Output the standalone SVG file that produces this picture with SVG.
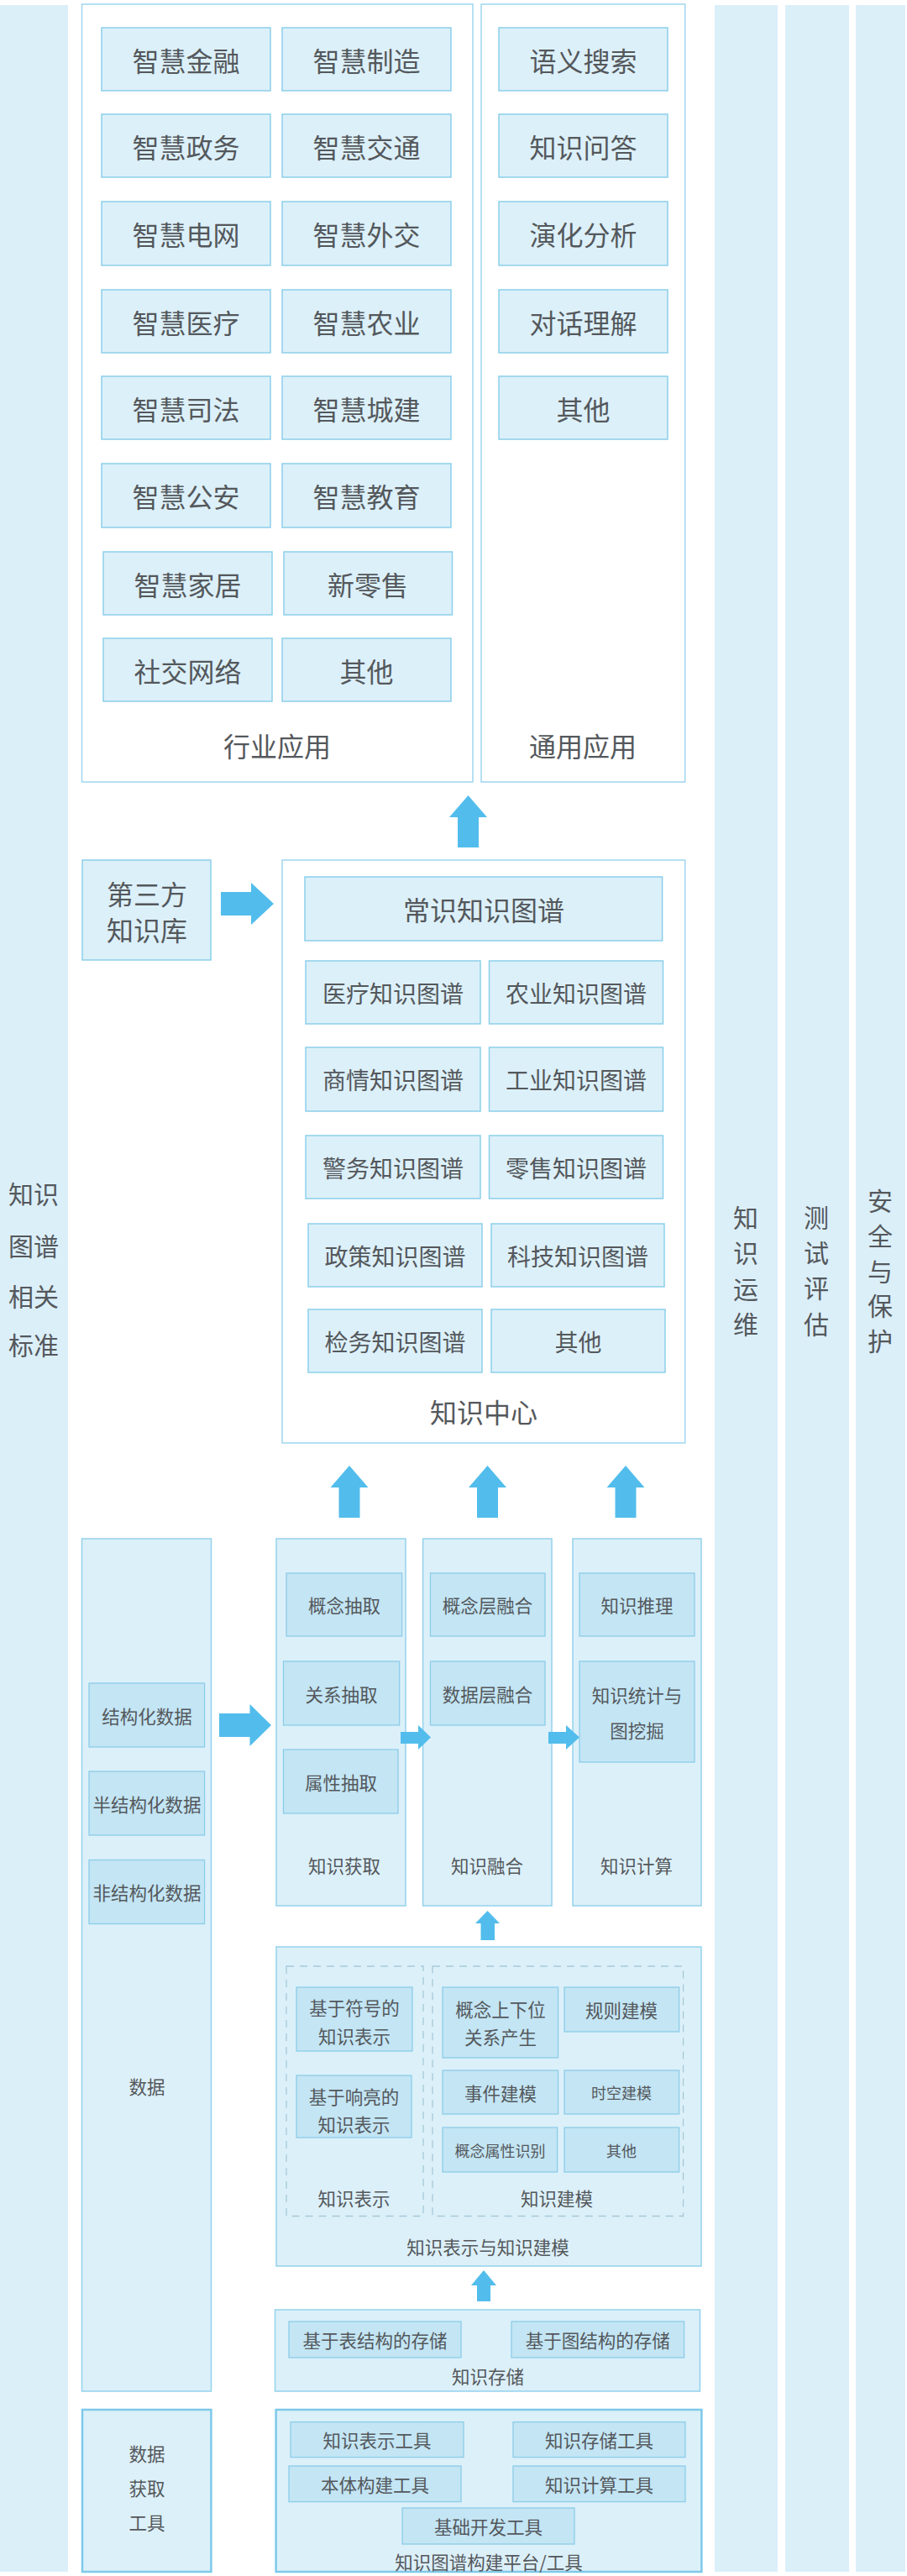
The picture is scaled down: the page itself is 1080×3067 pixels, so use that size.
<svg xmlns="http://www.w3.org/2000/svg" width="1080" height="3067" viewBox="0 0 1080 3067">
<style>
text{font-family:"Noto Sans CJK SC","Noto Sans",sans-serif;fill:#54585c;text-anchor:middle;dominant-baseline:central}
.band{fill:#dbeff9}
.frame{fill:#ffffff;stroke:#9fd6ef;stroke-width:1.5}
.box{fill:#dcf0f9;stroke:#8ccfea;stroke-width:1.5}
.pane{fill:#dcf0f9;stroke:#94d2ec;stroke-width:1.5}
.inner{fill:#c3e5f4;stroke:#8ccde9;stroke-width:1.3}
.thick{fill:#dcf0f9;stroke:#7ec9ea;stroke-width:2.5}
.dash{fill:none;stroke:#a6c9d9;stroke-width:1.3;stroke-dasharray:9 7}
.arrow{fill:#52bdec}
.t32{font-size:32px}.t30{font-size:30px}.t28{font-size:28px}.t22{font-size:21.5px}.t18{font-size:18px}
</style>

<g id="band-standards">
<rect class="band" x="0" y="6" width="81" height="3056"/>
<text class="t30" x="40" y="1420">知识</text>
<text class="t30" x="40" y="1482">图谱</text>
<text class="t30" x="40" y="1542">相关</text>
<text class="t30" x="40" y="1600">标准</text>
</g>
<g id="band-ops">
<rect class="band" x="851" y="6" width="75" height="3056"/>
<text class="t30" x="888" y="1448">知</text>
<text class="t30" x="888" y="1490">识</text>
<text class="t30" x="888" y="1533">运</text>
<text class="t30" x="888" y="1575">维</text>
</g>
<g id="band-eval">
<rect class="band" x="935" y="6" width="76" height="3056"/>
<text class="t30" x="972" y="1448">测</text>
<text class="t30" x="972" y="1490">试</text>
<text class="t30" x="972" y="1532">评</text>
<text class="t30" x="972" y="1575">估</text>
</g>
<g id="band-security">
<rect class="band" x="1019" y="6" width="59" height="3056"/>
<text class="t30" x="1048" y="1428">安</text>
<text class="t30" x="1048" y="1470">全</text>
<text class="t30" x="1048" y="1512">与</text>
<text class="t30" x="1048" y="1553">保</text>
<text class="t30" x="1048" y="1595">护</text>
</g>

<g id="industry-apps">
<rect class="frame" x="97.5" y="5" width="465.5" height="926"/>
<text class="t32" x="330" y="887">行业应用</text>
<g id="app-finance"><rect class="box" x="121" y="33" width="201" height="75"/><text class="t32" x="221.5" y="70.5">智慧金融</text></g>
<g id="app-manufacture"><rect class="box" x="336" y="33" width="201" height="75"/><text class="t32" x="436.5" y="70.5">智慧制造</text></g>
<g id="app-gov"><rect class="box" x="121" y="136" width="201" height="75"/><text class="t32" x="221.5" y="173.5">智慧政务</text></g>
<g id="app-traffic"><rect class="box" x="336" y="136" width="201" height="75"/><text class="t32" x="436.5" y="173.5">智慧交通</text></g>
<g id="app-grid"><rect class="box" x="121" y="240" width="201" height="76"/><text class="t32" x="221.5" y="278">智慧电网</text></g>
<g id="app-diplomacy"><rect class="box" x="336" y="240" width="201" height="76"/><text class="t32" x="436.5" y="278">智慧外交</text></g>
<g id="app-medical"><rect class="box" x="121" y="345" width="201" height="75"/><text class="t32" x="221.5" y="382.5">智慧医疗</text></g>
<g id="app-agri"><rect class="box" x="336" y="345" width="201" height="75"/><text class="t32" x="436.5" y="382.5">智慧农业</text></g>
<g id="app-judicial"><rect class="box" x="121" y="448" width="201" height="75"/><text class="t32" x="221.5" y="485.5">智慧司法</text></g>
<g id="app-urban"><rect class="box" x="336" y="448" width="201" height="75"/><text class="t32" x="436.5" y="485.5">智慧城建</text></g>
<g id="app-police"><rect class="box" x="121" y="552" width="201" height="76"/><text class="t32" x="221.5" y="590">智慧公安</text></g>
<g id="app-edu"><rect class="box" x="336" y="552" width="201" height="76"/><text class="t32" x="436.5" y="590">智慧教育</text></g>
<g id="app-home"><rect class="box" x="123" y="657" width="201" height="75"/><text class="t32" x="223.5" y="694.5">智慧家居</text></g>
<g id="app-retail"><rect class="box" x="338" y="657" width="200.5" height="75"/><text class="t32" x="438" y="694.5">新零售</text></g>
<g id="app-social"><rect class="box" x="123" y="760" width="201" height="75"/><text class="t32" x="223.5" y="797.5">社交网络</text></g>
<g id="app-other"><rect class="box" x="336" y="760" width="201" height="75"/><text class="t32" x="436.5" y="797.5">其他</text></g>
</g>

<g id="general-apps">
<rect class="frame" x="573" y="5" width="242.7" height="926"/>
<text class="t32" x="694" y="887">通用应用</text>
<g id="gen-search"><rect class="box" x="594" y="33" width="201" height="75"/><text class="t32" x="694.5" y="70.5">语义搜索</text></g>
<g id="gen-qa"><rect class="box" x="594" y="136" width="201" height="75"/><text class="t32" x="694.5" y="173.5">知识问答</text></g>
<g id="gen-evolution"><rect class="box" x="594" y="240" width="201" height="76"/><text class="t32" x="694.5" y="278">演化分析</text></g>
<g id="gen-dialog"><rect class="box" x="594" y="345" width="201" height="75"/><text class="t32" x="694.5" y="382.5">对话理解</text></g>
<g id="gen-other"><rect class="box" x="594" y="448" width="201" height="75"/><text class="t32" x="694.5" y="485.5">其他</text></g>
</g>

<g id="third-party-kb">
<rect class="box" x="98" y="1024" width="153" height="119"/>
<text class="t32" x="175" y="1063">第三方</text>
<text class="t32" x="175" y="1106">知识库</text>
</g>

<g id="knowledge-center">
<rect class="frame" x="336" y="1024" width="479.7" height="694"/>
<text class="t32" x="576" y="1680">知识中心</text>
<g id="kg-common"><rect class="box" x="363" y="1044" width="425.6" height="76"/><text class="t32" x="576" y="1082">常识知识图谱</text></g>
<g id="kg-medical"><rect class="box" x="364" y="1144" width="208" height="75"/><text class="t28" x="468" y="1181.5">医疗知识图谱</text></g>
<g id="kg-agri"><rect class="box" x="582.5" y="1144" width="207" height="75"/><text class="t28" x="686" y="1181.5">农业知识图谱</text></g>
<g id="kg-business"><rect class="box" x="364" y="1247" width="208" height="76"/><text class="t28" x="468" y="1285">商情知识图谱</text></g>
<g id="kg-industry"><rect class="box" x="582.5" y="1247" width="207" height="76"/><text class="t28" x="686" y="1285">工业知识图谱</text></g>
<g id="kg-police"><rect class="box" x="364" y="1352" width="208" height="75"/><text class="t28" x="468" y="1389.5">警务知识图谱</text></g>
<g id="kg-retail"><rect class="box" x="582.5" y="1352" width="207" height="75"/><text class="t28" x="686" y="1389.5">零售知识图谱</text></g>
<g id="kg-policy"><rect class="box" x="367" y="1457" width="207" height="75"/><text class="t28" x="470.5" y="1494.5">政策知识图谱</text></g>
<g id="kg-tech"><rect class="box" x="585" y="1457" width="206" height="75"/><text class="t28" x="688" y="1494.5">科技知识图谱</text></g>
<g id="kg-procuratorate"><rect class="box" x="367" y="1559" width="207" height="75"/><text class="t28" x="470.5" y="1596.5">检务知识图谱</text></g>
<g id="kg-other"><rect class="box" x="585" y="1559" width="207" height="75"/><text class="t28" x="688.5" y="1596.5">其他</text></g>
</g>

<g id="data">
<rect class="pane" x="97.5" y="1832" width="154" height="1015"/>
<text class="t22" x="175" y="2483">数据</text>
<g id="data-structured"><rect class="inner" x="106" y="2004" width="137.6" height="76"/><text class="t22" x="175" y="2042">结构化数据</text></g>
<g id="data-semi"><rect class="inner" x="106" y="2109" width="137.6" height="76"/><text class="t22" x="175" y="2147">半结构化数据</text></g>
<g id="data-unstructured"><rect class="inner" x="106" y="2214.5" width="137.6" height="76"/><text class="t22" x="175" y="2252.5">非结构化数据</text></g>
</g>

<g id="acquisition">
<rect class="pane" x="329" y="1832" width="154" height="437"/>
<text class="t22" x="410" y="2220">知识获取</text>
<g id="acq-concept"><rect class="inner" x="341" y="1873" width="137.6" height="75"/><text class="t22" x="410" y="1910.5">概念抽取</text></g>
<g id="acq-relation"><rect class="inner" x="337.5" y="1978" width="138.2" height="76"/><text class="t22" x="406.5" y="2016">关系抽取</text></g>
<g id="acq-attribute"><rect class="inner" x="337.5" y="2083" width="136.5" height="76"/><text class="t22" x="406" y="2121">属性抽取</text></g>
</g>

<g id="fusion">
<rect class="pane" x="503.6" y="1832" width="153.4" height="437"/>
<text class="t22" x="580" y="2220">知识融合</text>
<g id="fus-concept"><rect class="inner" x="512.5" y="1873" width="136.5" height="75"/><text class="t22" x="580.5" y="1910.5">概念层融合</text></g>
<g id="fus-data"><rect class="inner" x="512.5" y="1978" width="136.5" height="76"/><text class="t22" x="580.5" y="2016">数据层融合</text></g>
</g>

<g id="computation">
<rect class="pane" x="682" y="1832" width="153" height="437"/>
<text class="t22" x="758" y="2220">知识计算</text>
<g id="comp-reasoning"><rect class="inner" x="690" y="1873" width="137" height="75"/><text class="t22" x="758.5" y="1910.5">知识推理</text></g>
<g id="comp-mining"><rect class="inner" x="690" y="1978" width="137" height="120"/><text class="t22" x="758.5" y="2017">知识统计与</text><text class="t22" x="758.5" y="2059">图挖掘</text></g>
</g>

<g id="representation-modeling">
<rect class="pane" x="329" y="2318" width="506" height="380"/>
<text class="t22" x="581" y="2674">知识表示与知识建模</text>
<g id="representation">
<rect class="dash" x="341" y="2341" width="163" height="297.5"/>
<text class="t22" x="421.4" y="2616">知识表示</text>
<g id="rep-symbol"><rect class="inner" x="353" y="2366" width="138" height="76"/><text class="t22" x="422" y="2389">基于符号的</text><text class="t22" x="422" y="2423">知识表示</text></g>
<g id="rep-vector"><rect class="inner" x="353" y="2471" width="137" height="74"/><text class="t22" x="421.5" y="2495">基于响亮的</text><text class="t22" x="421.5" y="2528">知识表示</text></g>
</g>
<g id="modeling">
<rect class="dash" x="515" y="2341" width="298.6" height="297.5"/>
<text class="t22" x="663" y="2616">知识建模</text>
<g id="mod-hypernym"><rect class="inner" x="527" y="2366" width="137.6" height="84"/><text class="t22" x="596" y="2391">概念上下位</text><text class="t22" x="596" y="2424">关系产生</text></g>
<g id="mod-rule"><rect class="inner" x="672" y="2366" width="136.6" height="53"/><text class="t22" x="740" y="2392.5">规则建模</text></g>
<g id="mod-event"><rect class="inner" x="527" y="2465" width="137.6" height="52"/><text class="t22" x="596" y="2491">事件建模</text></g>
<g id="mod-spatiotemporal"><rect class="inner" x="672" y="2465" width="136.6" height="52"/><text class="t18" x="740" y="2491">时空建模</text></g>
<g id="mod-attribute"><rect class="inner" x="527" y="2533" width="136.6" height="53"/><text class="t18" x="595.5" y="2559.5">概念属性识别</text></g>
<g id="mod-other"><rect class="inner" x="672" y="2533" width="136.6" height="53"/><text class="t18" x="740" y="2559.5">其他</text></g>
</g>
</g>

<g id="storage">
<rect class="pane" x="327.5" y="2750" width="506" height="97"/>
<text class="t22" x="581" y="2828.5">知识存储</text>
<g id="store-table"><rect class="inner" x="344" y="2764" width="205" height="43"/><text class="t22" x="446.5" y="2785.5">基于表结构的存储</text></g>
<g id="store-graph"><rect class="inner" x="609" y="2764" width="205.6" height="43"/><text class="t22" x="711.8" y="2785.5">基于图结构的存储</text></g>
</g>

<g id="data-tools">
<rect class="thick" x="98" y="2869" width="153.4" height="193"/>
<text class="t22" x="175" y="2920">数据</text>
<text class="t22" x="175" y="2961">获取</text>
<text class="t22" x="175" y="3002">工具</text>
</g>

<g id="platform">
<rect class="thick" x="328.6" y="2869" width="506.8" height="193"/>
<text class="t22" x="582" y="3049.5">知识图谱构建平台/工具</text>
<g id="tool-rep"><rect class="inner" x="346" y="2883.6" width="206" height="42"/><text class="t22" x="449" y="2904.6">知识表示工具</text></g>
<g id="tool-store"><rect class="inner" x="611" y="2883.6" width="205" height="42"/><text class="t22" x="713.5" y="2904.6">知识存储工具</text></g>
<g id="tool-ontology"><rect class="inner" x="344" y="2936" width="205" height="42.6"/><text class="t22" x="446.5" y="2957.3">本体构建工具</text></g>
<g id="tool-compute"><rect class="inner" x="611" y="2936" width="205" height="42.6"/><text class="t22" x="713.5" y="2957.3">知识计算工具</text></g>
<g id="tool-base"><rect class="inner" x="479" y="2986" width="205" height="43"/><text class="t22" x="581.5" y="3007.5">基础开发工具</text></g>
</g>

<g id="connectors">
<polygon class="arrow" points="557.5,947 580,973 570,973 570,1009 545,1009 545,973 535,973"/>
<polygon class="arrow" points="326,1076 299,1051 299,1062 263,1062 263,1090 299,1090 299,1101"/>
<polygon class="arrow" points="416,1745 438.5,1771 428.5,1771 428.5,1807 403.5,1807 403.5,1771 393.5,1771"/>
<polygon class="arrow" points="580.5,1745 603,1771 593,1771 593,1807 568,1807 568,1771 558,1771"/>
<polygon class="arrow" points="745,1745 767.5,1771 757.5,1771 757.5,1807 732.5,1807 732.5,1771 722.5,1771"/>
<polygon class="arrow" points="323,2054 297.5,2029 297.5,2040 261,2040 261,2068 297.5,2068 297.5,2079"/>
<polygon class="arrow" points="513,2068.5 498,2054 498,2062 477,2062 477,2076 498,2076 498,2083"/>
<polygon class="arrow" points="690,2068.5 674,2054 674,2062 653,2062 653,2076 674,2076 674,2083"/>
<polygon class="arrow" points="580.5,2275 595,2290 589,2290 589,2310 572.5,2310 572.5,2290 566,2290"/>
<polygon class="arrow" points="576,2703 591,2721 584,2721 584,2740 568,2740 568,2721 561,2721"/>
</g>
</svg>
